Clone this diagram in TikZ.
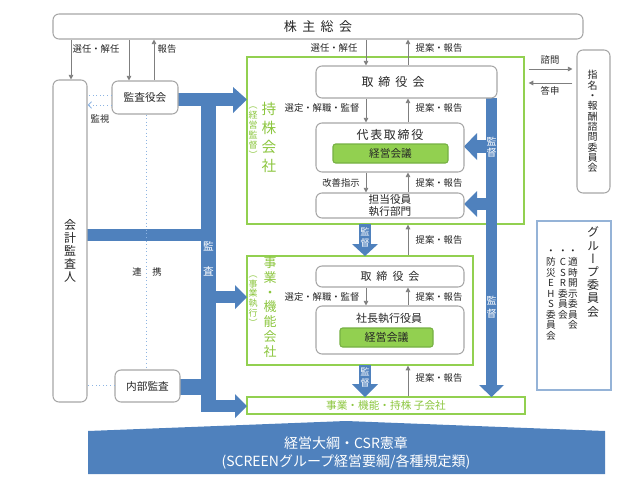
\documentclass[tikz,border=0pt]{standalone}
\usepackage{fontspec}
\usepackage{graphicx}
\setmainfont{Noto Sans CJK JP}
\newfontfamily\vfont[RawFeature=+vert]{Noto Sans CJK JP}
\usetikzlibrary{arrows.meta}
\definecolor{gbord}{HTML}{A6A6A6}
\definecolor{garrow}{HTML}{7F7F7F}
\definecolor{bband}{HTML}{4F81BD}
\definecolor{lgreen}{HTML}{92D050}
\definecolor{mgreen}{HTML}{76B043}
\definecolor{tgreen}{HTML}{8CC63F}
\definecolor{dblue}{HTML}{8DB4E2}
\definecolor{gblue}{HTML}{95B3D7}
\newcommand{\fs}[2]{\fontsize{#1}{#2}\selectfont}
\newcommand{\ls}[1]{\hspace{#1}}
\begin{document}
\begin{tikzpicture}[x=0.75pt,y=-0.75pt,
  sz/.style 2 args={minimum width=#1*0.75pt, minimum height=#2*0.75pt},
  graybox/.style={draw=gbord, line width=0.8pt, rounded corners=4.5pt, fill=white, inner sep=0pt, text=black!85},
  frame/.style={draw=lgreen, line width=1pt, inner sep=0pt},
  meet/.style={draw=mgreen, fill=lgreen, line width=0.8pt, rounded corners=2pt, inner sep=0pt, text=black!85},
  garr/.style={draw=garrow, line width=0.7pt, -{Triangle[length=3.5pt,width=3.5pt]}},
  lbl/.style={font=\fs{7}{8}, text=black!85, inner sep=0pt},
  band/.style={fill=bband},
  btxt/.style={text=white, align=center, inner sep=0pt},
  dots/.style={draw=dblue, dotted, line width=0.7pt},
  vtxt/.style={align=center, inner sep=0pt}]
\useasboundingbox (0,0) rectangle (643,482);

% frames
\node[frame, sz={277}{167}] (hold) at (385.5,140.5) {};
\node[frame, sz={226}{109}] (jigyo) at (360,310.5) {};
\node[frame, sz={278}{17}, text=tgreen, font=\fs{8}{9}] (ko) at (386,405.5) {事業・機能・持株 子会社};
\node[draw=gblue, line width=0.8pt, sz={74}{169}, inner sep=0pt] (group) at (574,305.5) {};

% blue bands (left)
\fill[band] (178,93) rectangle (234,106);
\fill[band] (233,87) -- (247,99.5) -- (233,113) -- cycle;
\fill[band] (201,93) rectangle (216,412);
\fill[band] (87,229) rectangle (202,241);
\fill[band] (215,291) rectangle (236,303);
\fill[band] (235,285) -- (247,297) -- (235,309) -- cycle;
\fill[band] (180,379) rectangle (202,395);
\fill[band] (215,400) rectangle (236,412);
\fill[band] (235,394) -- (247,406) -- (235,418) -- cycle;
% blue bands (right)
\fill[band] (486,98) rectangle (497,386);
\fill[band] (479,385) -- (491.5,397) -- (504,385) -- cycle;
\fill[band] (476,140) rectangle (487,153);
\fill[band] (477,133) -- (464,146.5) -- (477,160) -- cycle;
\fill[band] (476,198) rectangle (487,210);
\fill[band] (477,191) -- (464,204) -- (477,217) -- cycle;
% blue down arrows
\fill[band] (359,224) rectangle (371,245);
\fill[band] (352,244) -- (365,256) -- (378,244) -- cycle;
\fill[band] (359,365) rectangle (371,385);
\fill[band] (352,384) -- (365,397) -- (378,384) -- cycle;
% base
\fill[band] (88,474) -- (88,431) -- (346,421) -- (605,431) -- (605,474) -- cycle;

% band texts
\node[btxt, font=\fs{8}{18.75}] (kansaB) at (208.5,258.5) {監\\査};
\node[btxt, font=\fs{7.5}{8.5}] (kantoku1) at (491.5,147.5) {監\\督};
\node[btxt, font=\fs{7.5}{9.75}] (kantoku2) at (491.5,307.5) {監\\督};
\node[btxt, font=\fs{7}{8.25}] (kantoku3) at (365,237.5) {監\\督};
\node[btxt, font=\fs{7}{8.25}] (kantoku4) at (365,377.5) {監\\督};
\node[btxt, font=\fs{10.5}{13.5}] (base) at (346,453) {経営大綱・CSR憲章\\(SCREENグループ経営要綱/各種規定類)};

% gray boxes
\node[graybox, sz={530}{25}, font=\fs{9.75}{11}] (sh) at (318,26.5) {株\ls{4.1pt}主\ls{4.1pt}総\ls{4.1pt}会};
\node[graybox, sz={34}{322}] (kaikei) at (70,241) {};
\node[vtxt, text=black!85, font=\vfont\fs{9}{9.75}] (kaikeiT) at (70,251) {会\\計\\監\\査\\人};
\node[graybox, sz={66}{33}, font=\fs{8}{9}] (kansa) at (145,97.5) {監査役会};
\node[graybox, sz={65}{32}, font=\fs{8}{9}] (naibu) at (147.5,386) {内部監査};
\node[graybox, sz={181}{32}] (tori1) at (406.5,82) {};
\node[font=\fs{9}{10}, text=black!85, inner sep=0pt] (tori1T) at (393,82) {取\ls{3.75pt}締\ls{3.75pt}役\ls{3.75pt}会};
\node[graybox, sz={148}{49}] (daihyo) at (390,147.5) {};
\node[font=\fs{9}{10}, text=black!85, inner sep=0pt] (daihyoT) at (390,135) {代\ls{1.3pt}表\ls{1.3pt}取\ls{1.3pt}締\ls{1.3pt}役};
\node[meet, sz={115}{19}, font=\fs{8}{9}] (keiei1) at (390.5,153.5) {経営会議};
\node[graybox, sz={148}{25}, align=center, font=\fs{8}{9}] (tanto) at (390,205.5) {担当役員\\執行部門};
\node[graybox, sz={148}{21}, font=\fs{8.25}{9}] (tori2) at (390,276.5) {取\ls{3.75pt}締\ls{3.75pt}役\ls{3.75pt}会};
\node[graybox, sz={148}{48}] (shacho) at (390,330) {};
\node[font=\fs{8.25}{9}, text=black!85, inner sep=0pt] (shachoT) at (389,318) {社長執行役員};
\node[meet, sz={93}{19}, font=\fs{8.25}{9}] (keiei2) at (386.5,337.5) {経営会議};
\node[graybox, sz={33}{143}] (shimei) at (593.5,121.5) {};
\node[vtxt, text=black!85, font=\vfont\fs{7.5}{7.75}] (shimeiT) at (592.5,121.5) {指\\名\\・\\報\\酬\\諮\\問\\委\\員\\会};

% green vertical titles
\node[vtxt, text=tgreen, font=\vfont\fs{11}{14.25}] (holdT) at (269,137) {持\\株\\会\\社};
\node[vtxt, text=tgreen, font=\vfont\fs{6.75}{7.5}] (holdS) at (253,133) {︵\\経\\営\\監\\督\\︶};
\node[vtxt, text=tgreen, font=\vfont\fs{9.75}{11.1}] (jigyoT) at (270,307) {事\\業\\・\\機\\能\\会\\社};
\node[vtxt, text=tgreen, font=\vfont\fs{6.75}{7.3}] (jigyoS) at (253,301) {︵\\事\\業\\執\\行\\︶};

% group committee texts
\node[vtxt, text=black!85, font=\vfont\fs{9}{9.9}] (grT) at (593,272) {グ\\ル\\ー\\プ\\委\\員\\会};
\node[vtxt, text=black!85, font=\vfont\fs{7.25}{7.9}, anchor=north] (gr1) at (573,250) {・\\適\\時\\開\\示\\委\\員\\会};
\node[vtxt, text=black!85, font=\vfont\fs{7.25}{7.9}, anchor=north] (gr2) at (563,250) {・\\C\\S\\R\\委\\員\\会};
\node[vtxt, text=black!85, font=\vfont\fs{7.25}{7.9}, anchor=north] (gr3) at (551,250) {・\\防\\災\\E\\H\\S\\委\\員\\会};

% columns for gray arrows
\coordinate (xA) at (71,0);
\coordinate (xB) at (129,0);
\coordinate (xC) at (154,0);
\coordinate (xD) at (366,0);
\coordinate (xE) at (408,0);
\coordinate (xF) at (146,0);
\coordinate (yS) at (0,69);
\coordinate (yT) at (0,83);
\coordinate (yD1) at (0,95);
\coordinate (yD2) at (0,105);
\coordinate (yD3) at (0,385);

\draw[garr] (sh.south -| xA) -- (kaikei.north -| xA);
\draw[garr] (sh.south -| xB) -- (kansa.north -| xB);
\draw[garr] (kansa.north -| xC) -- (sh.south -| xC);
\draw[garr] (sh.south -| xD) -- (tori1.north -| xD);
\draw[garr] (tori1.north -| xE) -- (sh.south -| xE);
\draw[garr] (tori1.south -| xD) -- (daihyo.north -| xD);
\draw[garr] (daihyo.north -| xE) -- (tori1.south -| xE);
\draw[garr] (daihyo.south -| xD) -- (tanto.north -| xD);
\draw[garr] (tanto.north -| xE) -- (daihyo.south -| xE);
\draw[garr] (jigyo.north -| xE) -- (hold.south -| xE);
\draw[garr] (tori2.south -| xD) -- (shacho.north -| xD);
\draw[garr] (shacho.north -| xE) -- (tori2.south -| xE);
\draw[garr] (ko.north -| xE) -- (jigyo.south -| xE);
\draw[garr, shorten <=3pt, shorten >=3pt] (hold.east |- yS) -- (shimei.west |- yS);
\draw[garr, shorten <=3pt, shorten >=3pt] (shimei.west |- yT) -- (hold.east |- yT);

% dotted lines
\draw[dots] (kansa.west |- yD1) -- (kaikei.east |- yD1);
\draw[dots, -{Straight Barb[length=2.5pt,width=5pt]}] (kansa.west |- yD2) -- (kaikei.east |- yD2);
\draw[dots] (kansa.south -| xF) -- (naibu.north -| xF);
\draw[dots] (naibu.west |- yD3) -- (kaikei.east |- yD3);

% labels
\node[lbl] (l1) at (96,49) {選任・解任};
\node[lbl] (l2) at (167,49) {報告};
\node[lbl] (l3) at (334,48) {選任・解任};
\node[lbl] (l4) at (439,48) {提案・報告};
\node[lbl] (l5) at (322,108) {選定・解職・監督};
\node[lbl] (l6) at (439,108) {提案・報告};
\node[lbl] (l7) at (341,183) {改善指示};
\node[lbl] (l8) at (439,183) {提案・報告};
\node[lbl] (l9) at (439,240) {提案・報告};
\node[lbl] (l10) at (322,297) {選定・解職・監督};
\node[lbl] (l11) at (439,297) {提案・報告};
\node[lbl] (l12) at (439,378) {提案・報告};
\node[lbl] (l13) at (100,119) {監視};
\node[lbl] (l14) at (147,272) {連\ls{8pt}携};
\node[lbl] (l15) at (550,60) {諮問};
\node[lbl] (l16) at (550,91) {答申};
\end{tikzpicture}
\end{document}
